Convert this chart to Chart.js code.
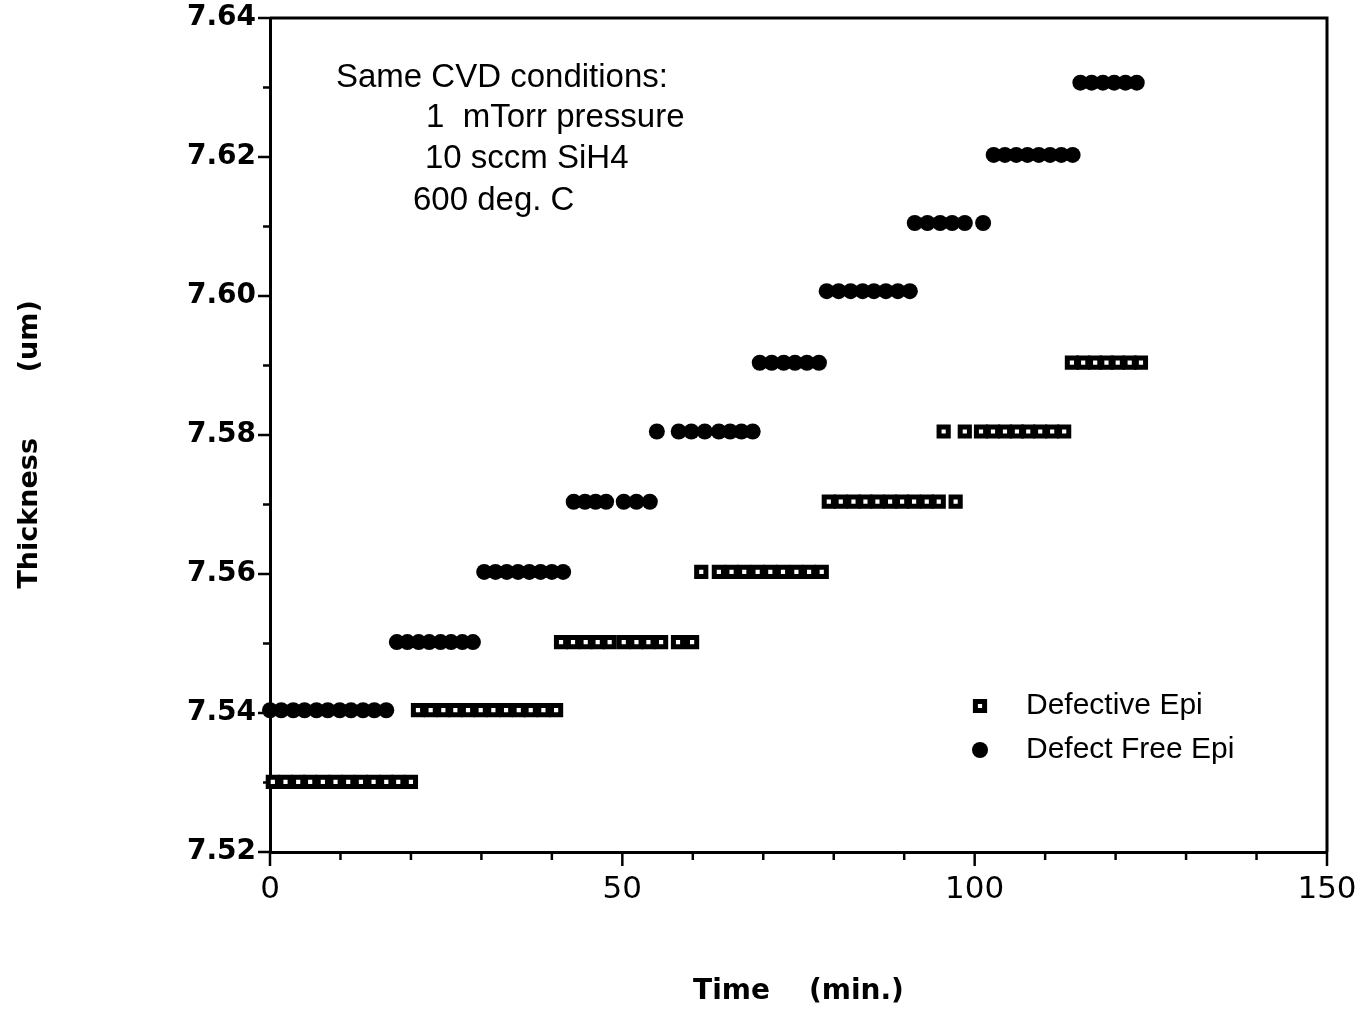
<!DOCTYPE html>
<html>
<head>
<meta charset="utf-8">
<script src="https://cdn.jsdelivr.net/npm/chart.js@4.4.1/dist/chart.umd.min.js"></script>
<style>
  html, body { margin: 0; padding: 0; background: #fff; }
  #wrap { width: 1361px; height: 1011px; }
</style>
</head>
<body>
<div id="wrap"><canvas id="grafico" width="1361" height="1011"></canvas></div>
<script>
// dados (tempo em min., espessura em um)
const defectiveTime = [
  0.4, 2.2, 4.0, 5.7, 7.5, 9.3, 11.1, 12.9, 14.7, 16.5, 18.2, 20.0,
  21.0, 22.8, 24.6, 26.3, 28.1, 29.9, 31.7, 33.5, 35.3, 37.0, 38.8, 40.6,
  41.3, 43.0, 44.8, 46.5, 48.2, 50.2, 52.0, 53.7, 55.5, 57.9, 59.9,
  61.2, 63.7, 65.5, 67.3, 69.2, 71.0, 72.8, 74.7, 76.5, 78.3,
  79.3, 81.0, 82.8, 84.5, 86.2, 88.0, 89.7, 91.4, 93.2, 94.9, 97.3,
  95.6, 98.6, 100.9, 102.6, 104.3, 106.0, 107.6, 109.3, 111.0, 112.7,
  113.8, 115.4, 117.1, 118.7, 120.3, 122.0, 123.6
];
const defectiveThickness = [
  7.5301, 7.5301, 7.5301, 7.5301, 7.5301, 7.5301, 7.5301, 7.5301, 7.5301, 7.5301, 7.5301, 7.5301,
  7.5404, 7.5404, 7.5404, 7.5404, 7.5404, 7.5404, 7.5404, 7.5404, 7.5404, 7.5404, 7.5404, 7.5404,
  7.5502, 7.5502, 7.5502, 7.5502, 7.5502, 7.5502, 7.5502, 7.5502, 7.5502, 7.5502, 7.5502,
  7.5603, 7.5603, 7.5603, 7.5603, 7.5603, 7.5603, 7.5603, 7.5603, 7.5603, 7.5603,
  7.5704, 7.5704, 7.5704, 7.5704, 7.5704, 7.5704, 7.5704, 7.5704, 7.5704, 7.5704, 7.5704,
  7.5805, 7.5805, 7.5805, 7.5805, 7.5805, 7.5805, 7.5805, 7.5805, 7.5805, 7.5805,
  7.5904, 7.5904, 7.5904, 7.5904, 7.5904, 7.5904, 7.5904
];

const freeTime = [
  0, 1.6, 3.3, 4.9, 6.6, 8.2, 9.9, 11.5, 13.2, 14.8, 16.5,
  18.0, 19.5, 21.1, 22.6, 24.2, 25.7, 27.3, 28.8,
  30.4, 32.0, 33.6, 35.2, 36.8, 38.4, 40.0, 41.6,
  43.1, 44.7, 46.2, 47.7, 50.2, 52.0, 53.9,
  54.9, 58.0, 59.8, 61.7, 63.7, 65.3, 66.9, 68.5,
  69.5, 71.2, 72.9, 74.5, 76.2, 77.9,
  79.0, 80.7, 82.4, 84.1, 85.7, 87.4, 89.1, 90.8,
  91.5, 93.3, 95.1, 96.8, 98.6, 101.2,
  102.7, 104.3, 105.9, 107.5, 109.1, 110.7, 112.3, 113.9,
  115.0, 116.6, 118.2, 119.8, 121.4, 123.0
];
const freeThickness = [
  7.5404, 7.5404, 7.5404, 7.5404, 7.5404, 7.5404, 7.5404, 7.5404, 7.5404, 7.5404, 7.5404,
  7.5502, 7.5502, 7.5502, 7.5502, 7.5502, 7.5502, 7.5502, 7.5502,
  7.5603, 7.5603, 7.5603, 7.5603, 7.5603, 7.5603, 7.5603, 7.5603,
  7.5704, 7.5704, 7.5704, 7.5704, 7.5704, 7.5704, 7.5704,
  7.5805, 7.5805, 7.5805, 7.5805, 7.5805, 7.5805, 7.5805, 7.5805,
  7.5904, 7.5904, 7.5904, 7.5904, 7.5904, 7.5904,
  7.6007, 7.6007, 7.6007, 7.6007, 7.6007, 7.6007, 7.6007, 7.6007,
  7.6105, 7.6105, 7.6105, 7.6105, 7.6105, 7.6105,
  7.6203, 7.6203, 7.6203, 7.6203, 7.6203, 7.6203, 7.6203, 7.6203,
  7.6307, 7.6307, 7.6307, 7.6307, 7.6307, 7.6307
];

const seriesNames = ['Defective Epi', 'Defect Free Epi'];
const notas = ['Same CVD conditions:', '1  mTorr pressure', '10 sccm SiH4', '600 deg. C'];

const xMin = 0, xMax = 150, xStep = 10;
const yMin = 7.52, yMax = 7.64, yStep = 0.01;

function pares(xs, ys) {
    return xs.map((x, i) => ({ x: x, y: ys[i] }));
}

// Plugin: caixa, marcas de escala, texto e legenda
const extras = {
    id: 'extras',
    afterDraw(chart) {
        const ctx = chart.ctx;
        const area = chart.chartArea;
        const sx = chart.scales.x;
        const sy = chart.scales.y;
        ctx.save();
        ctx.strokeStyle = '#000';

        // borda superior e direita
        ctx.lineWidth = 3;
        ctx.beginPath();
        ctx.moveTo(area.left, area.top);
        ctx.lineTo(area.right, area.top);
        ctx.lineTo(area.right, area.bottom);
        ctx.stroke();

        // marcas do eixo y
        ctx.lineWidth = 2.5;
        for (let k = 0; k <= Math.round((yMax - yMin) / yStep); k++) {
            const v = yMin + k * yStep;
            const py = sy.getPixelForValue(v);
            const len = (k % 2 === 0) ? 12 : 7;
            ctx.beginPath();
            ctx.moveTo(area.left - len, py);
            ctx.lineTo(area.left, py);
            ctx.stroke();
        }
        // marcas do eixo x
        for (let v = xMin; v <= xMax; v += xStep) {
            const px = sx.getPixelForValue(v);
            const len = (v % 50 === 0) ? 14 : 8;
            ctx.beginPath();
            ctx.moveTo(px, area.bottom);
            ctx.lineTo(px, area.bottom + len);
            ctx.stroke();
        }

        // condições
        ctx.fillStyle = '#000';
        ctx.textBaseline = 'middle';
        ctx.textAlign = 'left';
        ctx.font = '33px "Liberation Sans", Arial, sans-serif';
        ctx.fillText(notas[0], 336, 78);
        ctx.fillText(notas[1], 426, 118);
        ctx.fillText(notas[2], 425, 159);
        ctx.fillText(notas[3], 413, 201);

        // legenda
        const linhas = [706, 750];
        ctx.font = '30px "Liberation Sans", Arial, sans-serif';
        chart.data.datasets.forEach((ds, i) => {
            const opts = {
                pointStyle: ds.pointStyle,
                radius: ds.pointRadius,
                rotation: 0,
                borderWidth: ds.borderWidth
            };
            ctx.fillStyle = ds.backgroundColor;
            ctx.strokeStyle = ds.borderColor;
            ctx.lineWidth = ds.borderWidth;
            Chart.helpers.drawPoint(ctx, opts, 980, linhas[i]);
            ctx.fillStyle = '#000';
            ctx.fillText(ds.label, 1026, linhas[i]);
        });
        ctx.restore();
    }
};

const ctx = document.getElementById('grafico').getContext('2d');
const grafico = new Chart(ctx, {
    type: 'scatter',
    data: {
        datasets: [
            {
                label: seriesNames[0],
                data: pares(defectiveTime, defectiveThickness),
                pointStyle: 'rect',
                pointRadius: 6.5,
                backgroundColor: '#fff',
                borderColor: '#000',
                borderWidth: 5,
                clip: false
            },
            {
                label: seriesNames[1],
                data: pares(freeTime, freeThickness),
                pointStyle: 'circle',
                pointRadius: 8,
                backgroundColor: '#000',
                borderColor: '#000',
                borderWidth: 0,
                clip: false
            }
        ]
    },
    options: {
        responsive: false,
        animation: false,
        layout: { padding: { left: 0, right: 34, top: 18, bottom: 2 } },
        plugins: {
            legend: { display: false },
            tooltip: { enabled: false }
        },
        scales: {
            x: {
                type: 'linear',
                min: xMin,
                max: xMax,
                grid: { display: false, drawTicks: false },
                border: { display: true, color: '#000', width: 3 },
                ticks: {
                    stepSize: xStep,
                    autoSkip: false,
                    maxRotation: 0,
                    padding: 19,
                    color: '#000',
                    font: { family: '"DejaVu Sans", sans-serif', size: 31 },
                    callback: (v) => (v % 50 === 0 ? String(v) : '')
                },
                title: {
                    display: true,
                    text: 'Time    (min.)',
                    color: '#000',
                    font: { family: '"DejaVu Sans", sans-serif', size: 28, weight: 'bold' },
                    padding: { top: 0, bottom: 0 }
                },
                afterFit: (scale) => {
                    scale.height = 1011 - 852 - 2;
                    scale.paddingLeft = 0;
                    scale.paddingRight = 0;
                }
            },
            y: {
                type: 'linear',
                min: yMin,
                max: yMax,
                grid: { display: false, drawTicks: false },
                border: { display: true, color: '#000', width: 3 },
                ticks: {
                    stepSize: yStep,
                    autoSkip: false,
                    padding: 14,
                    color: '#000',
                    font: { family: '"DejaVu Sans", sans-serif', size: 28, weight: 'bold' },
                    callback: (v) => (Math.round(v * 100) % 2 === 0 ? v.toFixed(2) : '')
                },
                title: {
                    display: true,
                    text: 'Thickness       (um)  ',
                    color: '#000',
                    font: { family: '"DejaVu Sans", sans-serif', size: 27, weight: 'bold' },
                    padding: { top: 14, bottom: 0 }
                },
                afterFit: (scale) => {
                    scale.width = 270;
                    scale.paddingTop = 0;
                    scale.paddingBottom = 0;
                }
            }
        }
    },
    plugins: [extras]
});
</script>
</body>
</html>
